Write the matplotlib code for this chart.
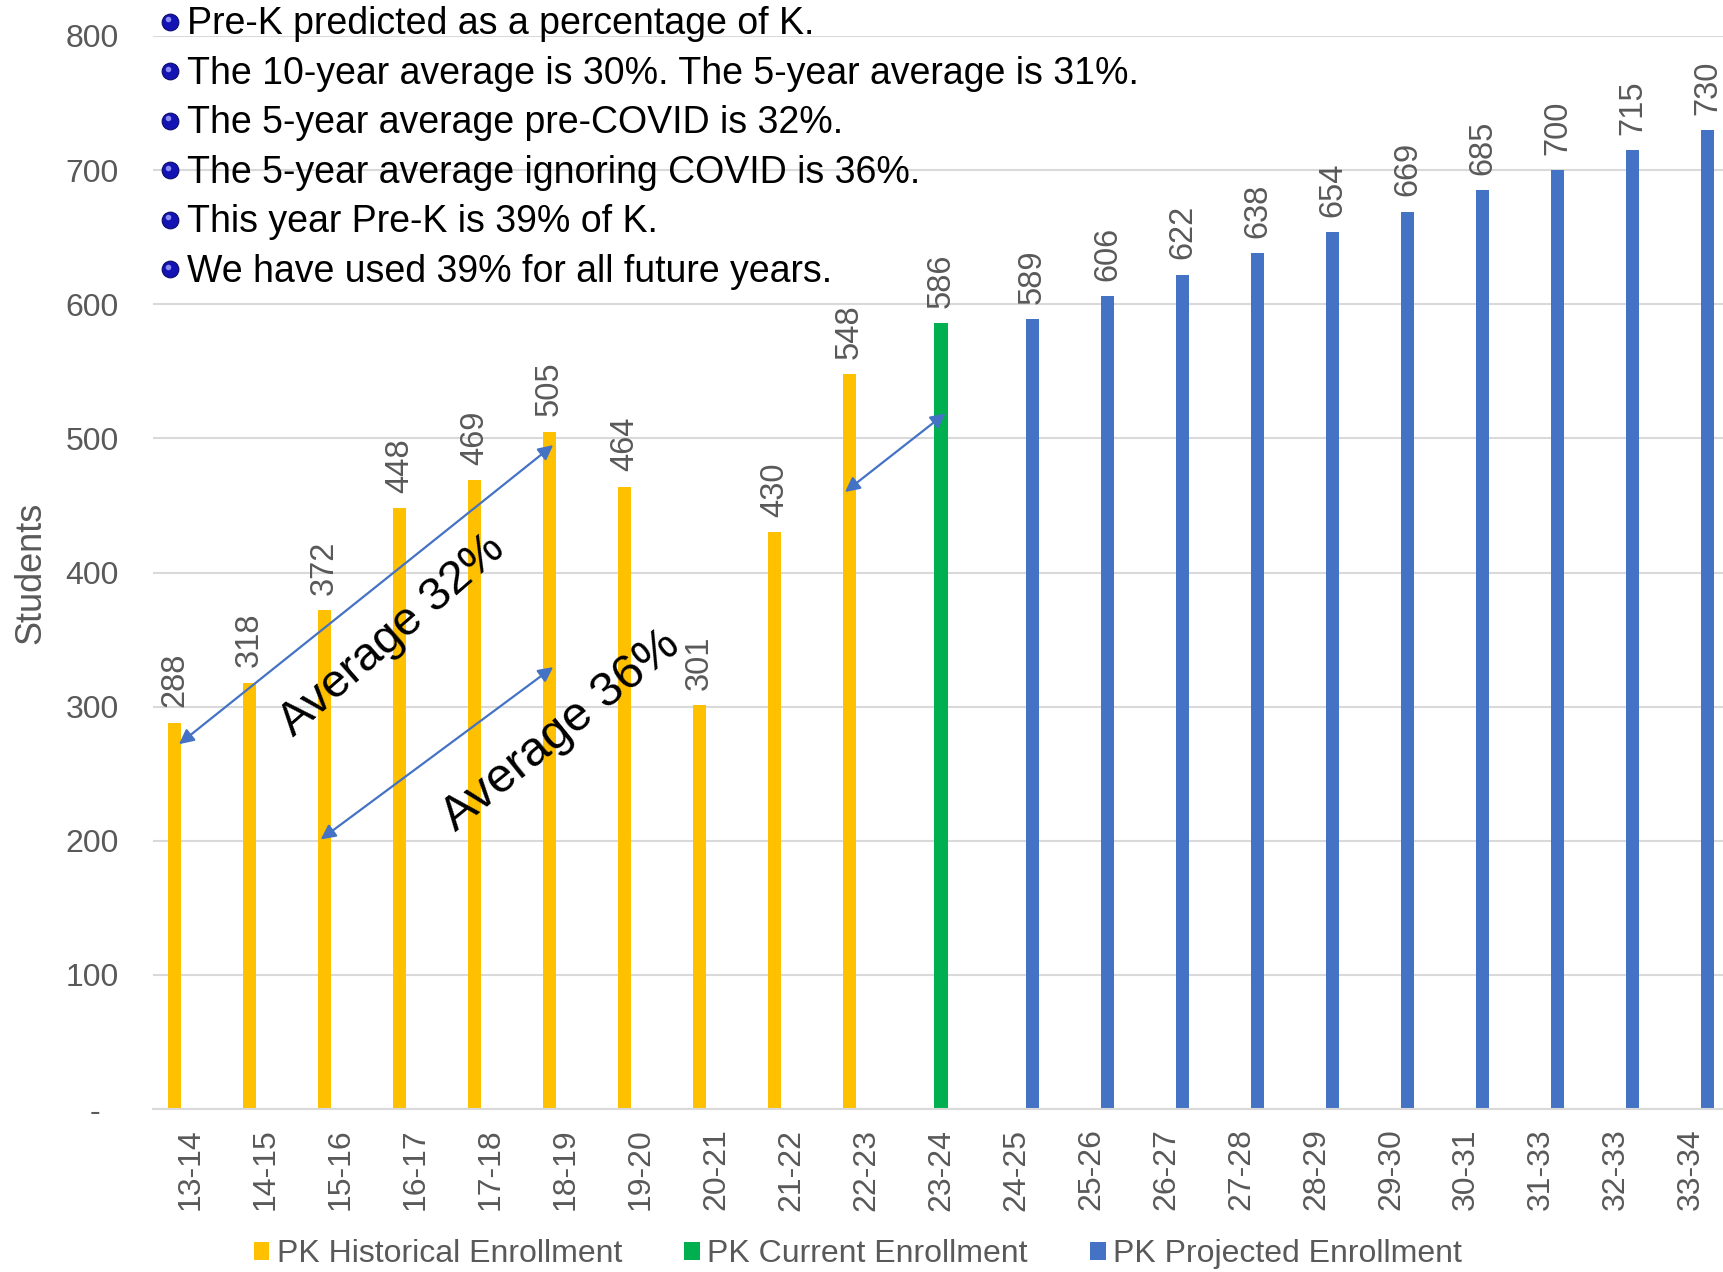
import matplotlib
matplotlib.use("Agg")
import matplotlib.pyplot as plt
import numpy as np

years = ["13-14", "14-15", "15-16", "16-17", "17-18", "18-19", "19-20", "20-21",
         "21-22", "22-23", "23-24", "24-25", "25-26", "26-27", "27-28", "28-29",
         "29-30", "30-31", "31-33", "32-33", "33-34"]
historical = [288, 318, 372, 448, 469, 505, 464, 301, 430, 548]
current = [586]
projected = [589, 606, 622, 638, 654, 669, 685, 700, 715, 730]
y_ticks = [0, 100, 200, 300, 400, 500, 600, 700, 800]
y_ticklabels = ["-  ", "100", "200", "300", "400", "500", "600", "700", "800"]
notes = ["Pre-K predicted as a percentage of K.",
         "The 10-year average is 30%. The 5-year average is 31%.",
         "The 5-year average pre-COVID is 32%.",
         "The 5-year average ignoring COVID is 36%.",
         "This year Pre-K is 39% of K.",
         "We have used 39% for all future years."]

GREY = "#595959"
YELLOW, GREEN, BLUE = "#FFC000", "#00B050", "#4472C4"

plt.rcParams["font.family"] = ["Liberation Sans", "DejaVu Sans"]

fig = plt.figure(figsize=(17.24, 12.72), dpi=100)
ax = fig.add_axes([0.089, 0.1281, 0.9136, 0.8436])

x = np.arange(len(years))
w = 0.18
off = 0.22
xh = x[:len(historical)]
xc = x[len(historical):len(historical) + len(current)]
xp = x[len(historical) + len(current):]

b1 = ax.bar(xh - off, historical, w, color=YELLOW, label="PK Historical Enrollment", zorder=3)
b2 = ax.bar(xc, current, w, color=GREEN, label="PK Current Enrollment", zorder=3)
b3 = ax.bar(xp + off, projected, w, color=BLUE, label="PK Projected Enrollment", zorder=3)

for bars in (b1, b2, b3):
    for r in bars:
        ax.annotate(f"{r.get_height():.0f}", (r.get_x() + r.get_width() / 2, r.get_height()),
                    xytext=(0, 11), textcoords="offset points", rotation=90,
                    ha="center", va="bottom", fontsize=23.5, color=GREY, zorder=4)

ax.set_xlim(-0.5, len(years) - 0.5)
ax.set_ylim(0, 800)
ax.set_yticks(y_ticks)
ax.set_yticklabels(y_ticklabels)
ax.set_xticks(x)
ax.set_xticklabels(years, rotation=90)
ax.tick_params(axis="y", length=0, pad=25, labelsize=23, labelcolor=GREY)
ax.tick_params(axis="x", length=0, pad=14, labelsize=23, labelcolor=GREY)
ax.grid(axis="y", color="#d9d9d9", lw=1.5, zorder=0)
for s in ("top", "right", "left"):
    ax.spines[s].set_visible(False)
ax.spines["bottom"].set_color("#d9d9d9")
ax.spines["bottom"].set_linewidth(1.5)
ax.spines["bottom"].set_zorder(5)
ax.set_ylabel("Students", fontsize=26, color=GREY)
ax.yaxis.set_label_coords(-0.067, 0.5)

# average arrows
arrows = [((-0.16, 272), (4.83, 495)), ((1.73, 201), (4.83, 329.5)), ((8.72, 460), (10.06, 518.7))]
for a, b in arrows:
    ax.annotate("", xy=b, xytext=a, zorder=6,
                arrowprops=dict(arrowstyle="<|-|>", color=BLUE, lw=1.6, mutation_scale=22,
                                shrinkA=0, shrinkB=0))
ax.text(2.68, 353, "Average 32%", rotation=41, fontsize=34, ha="center", va="center",
        color="black", zorder=7, rotation_mode="anchor")
ax.text(4.93, 282, "Average 36%", rotation=39, fontsize=35, ha="center", va="center",
        color="black", zorder=7, rotation_mode="anchor")

# bullet notes
for i, t in enumerate(notes):
    yy = 0.981 - i * 0.0389
    fig.text(0.1085, yy, t, fontsize=27, ha="left", va="center", color="black", zorder=10)
    fig.add_artist(plt.Line2D([0.0986], [yy + 0.002], marker="o", markersize=12,
                              color="#1414b4", markeredgecolor="#0a0a6e", markeredgewidth=0.8,
                              transform=fig.transFigure))
    fig.add_artist(plt.Line2D([0.0977], [yy + 0.0038], marker="o", markersize=4,
                              color="#8c8cf5", markeredgewidth=0, transform=fig.transFigure))

fig.legend(handles=[b1, b2, b3], loc="center", bbox_to_anchor=(0.4975, 0.014), ncol=3,
           frameon=False, fontsize=23, labelcolor=GREY, handlelength=0.5, handleheight=0.5,
           handletextpad=0.22, columnspacing=1.95)

fig.savefig("out.png", dpi=100, facecolor="white")
